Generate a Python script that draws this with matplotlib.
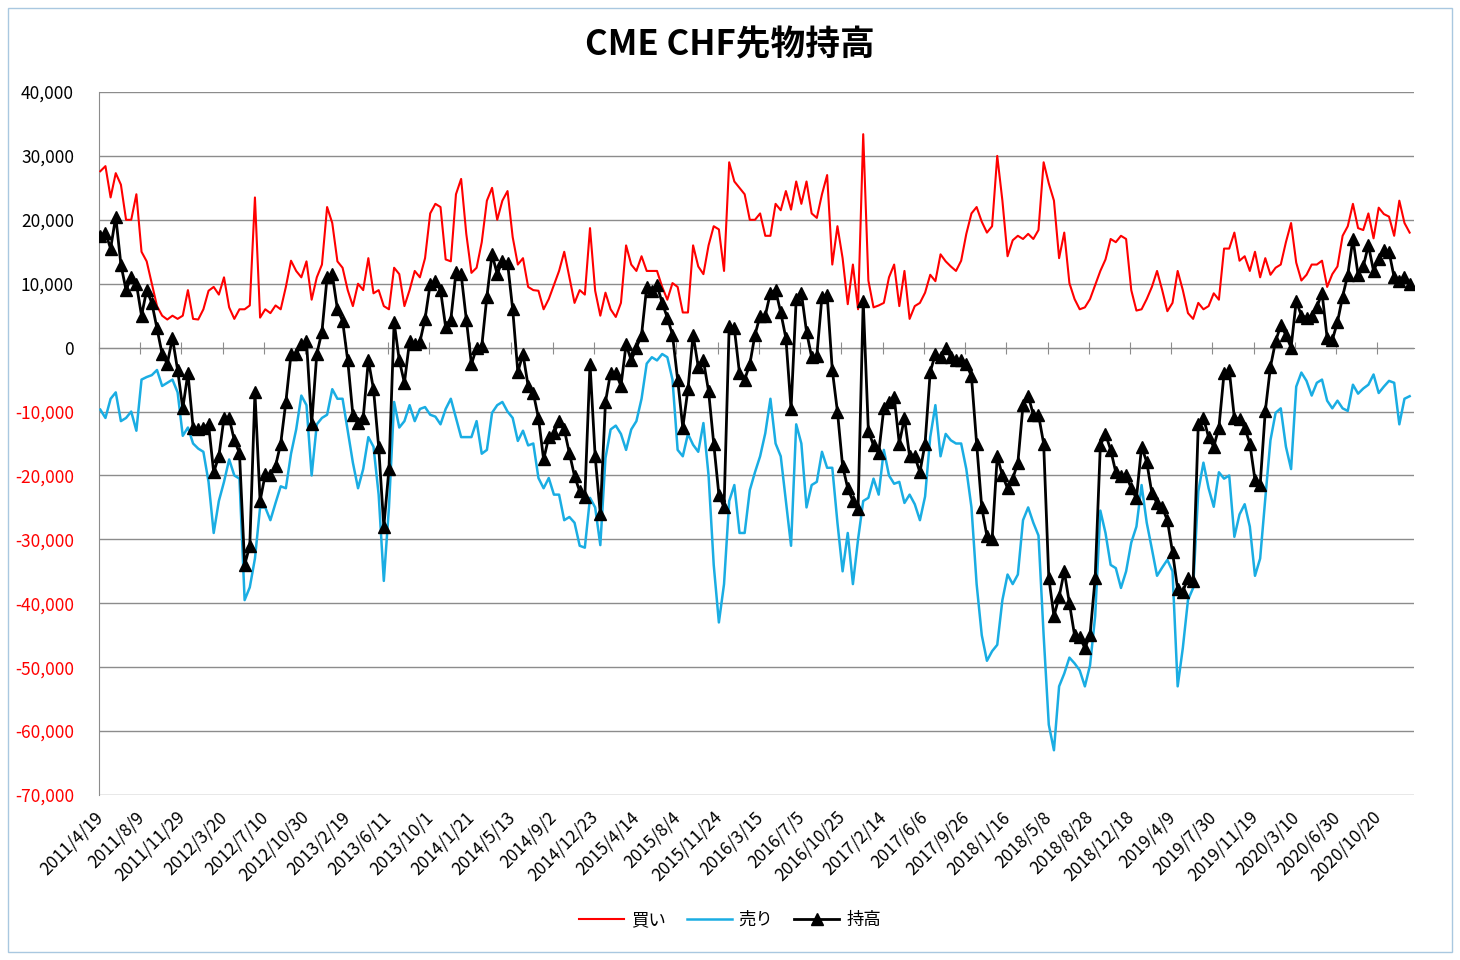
import numpy as np
import matplotlib
matplotlib.use("Agg")
import matplotlib.pyplot as plt
from matplotlib.lines import Line2D
from matplotlib.patches import Rectangle

plt.rcParams['font.family'] = ['Noto Sans CJK JP', 'DejaVu Sans']

# CME CHF futures positions, read every 2 weeks from 2011/4/19
buy = [27600, 28400, 23500, 27300, 25500, 20000, 20000, 24000, 15000, 13500,
       10000, 6500, 5000, 4400, 5000, 4500, 5000, 9000, 4500, 4400,
       6000, 8900, 9500, 8300, 11000, 6300, 4500, 6000, 6000, 6600,
       23500, 4700, 6000, 5400, 6600, 6000, 9500, 13600, 12000, 11000,
       13500, 7500, 11000, 13000, 22000, 19500, 13500, 12500, 9000, 6500,
       10000, 9000, 14000, 8500, 9000, 6500, 6000, 12500, 11500, 6500,
       9000, 12000, 11000, 14000, 21000, 22500, 22000, 13800, 13500, 24000,
       26400, 17800, 11700, 12500, 16500, 23000, 25000, 20000, 23000, 24500,
       17300, 13000, 14000, 9500, 9000, 8900, 6000, 7600, 9800, 12000,
       15000, 11000, 7000, 9000, 8300, 18700, 8900, 5000, 8600, 6000,
       4800, 7000, 16000, 13000, 12000, 14300, 12000, 12000, 12000, 9500,
       7500, 10100, 9500, 5500, 5500, 16000, 12700, 11500, 16000, 19000,
       18500, 12000, 29000, 26000, 25000, 24000, 20000, 20000, 21000, 17500,
       17500, 22500, 21500, 24500, 21600, 26000, 22500, 26000, 21000, 20300,
       24000, 27000, 13000, 19000, 14000, 6800, 13000, 6000, 33400, 10500,
       6300, 6600, 7000, 11000, 13000, 6500, 12000, 4500, 6500, 7000,
       8600, 11400, 10400, 14600, 13500, 12700, 12000, 13600, 17800, 21000,
       22000, 19700, 18000, 19000, 30000, 23000, 14300, 16800, 17500, 17000,
       17800, 17000, 18400, 29000, 25700, 23000, 14000, 18000, 10100, 7600,
       6000, 6300, 7600, 9800, 12000, 13800, 17000, 16500, 17500, 17000,
       9000, 5800, 6000, 7600, 9500, 12000, 9000, 5700, 7000, 12000,
       9000, 5400, 4500, 7000, 6000, 6500, 8500, 7500, 15500, 15500,
       18000, 13600, 14300, 12000, 15000, 11000, 14000, 11400, 12500, 13000,
       16500, 19500, 13300, 10500, 11400, 13000, 13000, 13600, 9500, 11500,
       12700, 17500, 19000, 22500, 18700, 18400, 21000, 17100, 21900, 20900,
       20500, 17500, 23000, 19500, 18000]

sell = [-9700, -11000, -8000, -7000, -11500, -11000, -10000, -13000, -5000, -4600,
        -4300, -3500, -6000, -5500, -5000, -7000, -13800, -12500, -15000, -15800,
        -16300, -21000, -29000, -24000, -21000, -17500, -20000, -20500, -39500, -37500,
        -33000, -25000, -25000, -27000, -24300, -21700, -22000, -16600, -12800, -7500,
        -9000, -20000, -12000, -11000, -10500, -6500, -8000, -8000, -13000, -18000,
        -22000, -19000, -14000, -15500, -23000, -36500, -25000, -8500, -12500, -11500,
        -9000, -11500, -9600, -9300, -10500, -10800, -12000, -9600, -8000, -11000,
        -14000, -14000, -14000, -11500, -16600, -16000, -10200, -9000, -8500, -10000,
        -11000, -14600, -13000, -15300, -15000, -20400, -22000, -20400, -23000, -23000,
        -27000, -26500, -27400, -31000, -31300, -23500, -25000, -30900, -17300, -12800,
        -12200, -13500, -16000, -12800, -11500, -8000, -2500, -1500, -2000, -1000,
        -1500, -5000, -16000, -17000, -13500, -15200, -16300, -11800, -20000, -34000,
        -43000, -37000, -24000, -21500, -29000, -29000, -22300, -19500, -17000, -13400,
        -8000, -15000, -17000, -24000, -31000, -12000, -15000, -25000, -21500, -21000,
        -16300, -18800, -18800, -27400, -35000, -29000, -37000, -30000, -24000, -23500,
        -20500, -23000, -16000, -20000, -21300, -21000, -24300, -23000, -24500, -27000,
        -23300, -14000, -9000, -17000, -13500, -14500, -15000, -15000, -19000, -25000,
        -37000, -45000, -49000, -47500, -46500, -39500, -35500, -37000, -35500, -27000,
        -25000, -27400, -29400, -45000, -59000, -63000, -53000, -51000, -48500, -49400,
        -50500, -53000, -49700, -42000, -25500, -29000, -34000, -34500, -37600, -35000,
        -30500, -28000, -21500, -27400, -31500, -35700, -34400, -33200, -35000, -53000,
        -47000, -39500, -37600, -22500, -18000, -22000, -24900, -19500, -20500, -20000,
        -29600, -26100, -24500, -28000, -35700, -33000, -23600, -14500, -10200, -9500,
        -15500, -19000, -6100, -3900, -5200, -7500, -5500, -5000, -8300, -9500,
        -8300, -9500, -9900, -5800, -7200, -6400, -5800, -4200, -7100, -6100,
        -5200, -5500, -12000, -8000, -7600]

net = [17500, 18000, 15500, 20500, 13000, 9000, 11000, 10000, 5000, 9000,
       7000, 3000, -1000, -2500, 1500, -3500, -9500, -4000, -12500, -12800,
       -12500, -12000, -19500, -17000, -11000, -11000, -14500, -16500, -34000, -31000,
       -7000, -24000, -19800, -20000, -18500, -15000, -8500, -1000, -1000, 500,
       1000, -12000, -1000, 2500, 11000, 11500, 6000, 4200, -2000, -10500,
       -11800, -11000, -2000, -6500, -15500, -28000, -19000, 4000, -2000, -5500,
       1000, 500, 900, 4500, 10000, 10400, 9000, 3200, 4400, 11800,
       11500, 4400, -2600, 0, 200, 8000, 14600, 11500, 13600, 13300,
       6000, -3800, -1000, -6000, -7100, -11000, -17500, -14000, -13400, -11500,
       -12800, -16500, -20100, -22500, -23300, -2500, -17000, -26000, -8500, -3900,
       -3900, -6000, 500, -2000, 0, 2000, 9500, 8800, 9800, 7000,
       4700, 2000, -5000, -12500, -6500, 2000, -3000, -2000, -6800, -15000,
       -23000, -25000, 3400, 3000, -4000, -5000, -2600, 2000, 5000, 5000,
       8600, 9000, 5500, 1500, -9600, 7600, 8600, 2500, -1500, -1300,
       8000, 8300, -3500, -10000, -18500, -22000, -24000, -25200, 7300, -13000,
       -15300, -16500, -9500, -8500, -7700, -15000, -11000, -17000, -17000, -19500,
       -15000, -3800, -1000, -1500, 0, -1500, -2000, -2000, -2500, -4500,
       -15000, -25000, -29500, -30000, -17000, -20000, -22000, -20500, -18000, -9000,
       -7500, -10500, -10500, -15000, -36000, -42000, -39000, -35000, -40000, -45000,
       -45300, -47000, -45000, -36000, -15300, -13500, -16000, -19500, -20100, -20000,
       -22000, -23600, -15500, -17900, -22800, -24300, -25000, -27000, -32000, -37800,
       -38200, -36000, -36500, -12000, -11000, -14000, -15500, -12500, -4000, -3500,
       -11000, -11200, -12500, -15000, -20700, -21500, -9900, -3000, 1000, 3500,
       2000, 0, 7300, 5000, 4700, 5000, 6300, 8600, 1500, 1200,
       4000, 8000, 11400, 17000, 11400, 12700, 16000, 12000, 13900, 15200,
       15000, 11000, 10400, 11100, 10000]

# category labels, one every 16 weeks
date_labels = ['2011/4/19', '2011/8/9', '2011/11/29', '2012/3/20', '2012/7/10',
               '2012/10/30', '2013/2/19', '2013/6/11', '2013/10/1', '2014/1/21',
               '2014/5/13', '2014/9/2', '2014/12/23', '2015/4/14', '2015/8/4',
               '2015/11/24', '2016/3/15', '2016/7/5', '2016/10/25', '2017/2/14',
               '2017/6/6', '2017/9/26', '2018/1/16', '2018/5/8', '2018/8/28',
               '2018/12/18', '2019/4/9', '2019/7/30', '2019/11/19', '2020/3/10',
               '2020/6/30', '2020/10/20']
label_step = 16   # weeks between labels
n_weeks = 510

weeks = np.arange(len(buy)) * 2

fig = plt.figure(figsize=(14.6, 9.6), dpi=100)
ax = fig.add_axes([99 / 1460, 1 - 795 / 960, (1413.5 - 99) / 1460, (795 - 92) / 960])

ax.plot(weeks, buy, color='#FF0000', lw=1.5, zorder=3)
ax.plot(weeks, sell, color='#1AADE3', lw=1.8, zorder=3)
ax.plot(weeks, net, color='black', lw=2, marker='^', ms=8, zorder=4)

ymin, ymax = -70000, 40000
ax.set_ylim(ymin, ymax)
ax.set_xlim(-0.5, n_weeks - 0.5)
yt = np.arange(ymin, ymax + 1, 10000)
ax.set_yticks(yt)
ax.set_yticklabels([f'{v:,}' for v in yt], fontsize=12.5)
for lab, v in zip(ax.get_yticklabels(), yt):
    lab.set_color('#FF0000' if v < 0 else 'black')
ax.tick_params(axis='y', length=0, pad=18)
ax.grid(axis='y', color='#8C8C8C', lw=1)
ax.set_axisbelow(True)

label_pos = np.arange(len(date_labels)) * label_step
ax.set_xticks(label_pos)
ax.set_xticklabels(date_labels, rotation=45, ha='right', va='center',
                   rotation_mode='anchor', fontsize=12.5)
ax.tick_params(axis='x', length=0, pad=14)

for s in ['top', 'right', 'bottom']:
    ax.spines[s].set_visible(False)
ax.spines['left'].set_color('#8C8C8C')

# category axis crossing at zero, with tick marks between label groups
zero_loc = (0 - ymin) / (ymax - ymin)
sec = ax.secondary_xaxis(zero_loc)
sec.set_xticks(np.arange(-0.5, n_weeks, label_step))
sec.tick_params(axis='x', direction='inout', length=8, color='#8C8C8C',
                labelbottom=False, labeltop=False)
for s in sec.spines.values():
    s.set_color('#8C8C8C')

fig.text(0.5, 1 - 45 / 960, 'CME CHF先物持高', ha='center', va='center',
         fontsize=25, fontweight='bold')

handles = [Line2D([], [], color='#FF0000', lw=1.5),
           Line2D([], [], color='#1AADE3', lw=1.8),
           Line2D([], [], color='black', lw=2, marker='^', ms=8)]
fig.legend(handles, ['買い', '売り', '持高'], loc='center',
           bbox_to_anchor=(0.5, 1 - 920 / 960), ncol=3, frameon=False,
           fontsize=12.5, handlelength=2.6, columnspacing=1.2, handletextpad=0.4)

fig.patches.append(Rectangle((8 / 1460, 8 / 960), 1444 / 1460, 944 / 960,
                             transform=fig.transFigure, fill=False,
                             edgecolor='#A9C8E0', lw=1))

fig.savefig('out.png', dpi=100)
